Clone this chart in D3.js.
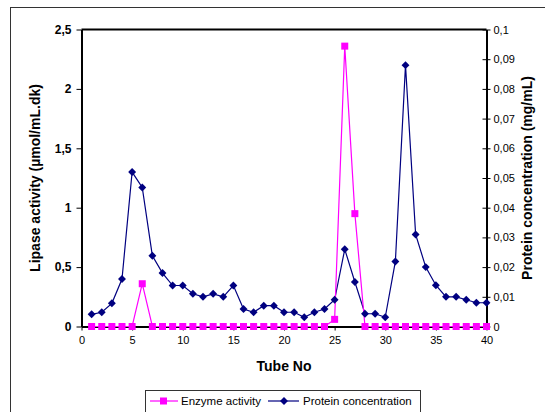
<!DOCTYPE html>
<html>
<head>
<meta charset="utf-8">
<script src="https://cdn.jsdelivr.net/npm/d3@7"></script>
<style>
body { margin:0; background:#fff; }
svg { font-family:"Liberation Sans", Arial, sans-serif; }
.tickL text { font-weight:bold; font-size:12px; }
.tickR text, .tickX text { font-size:11px; }
.axis path, .axis line { stroke:#000; }
.title { font-weight:bold; font-size:14px; }
.legText { font-size:11.5px; }
</style>
</head>
<body>
<svg id="chart" width="545" height="412"></svg>
<script>
var tubes = d3.range(1, 41)
// lipase activity, µmol/mL.dk (left axis)
var enzyme = [0,0,0,0,0,0.36,0,0,0,0, 0,0,0,0,0,0,0,0,0,0, 0,0,0,0,0.06,2.36,0.95,0,0,0, 0,0,0,0,0,0,0,0,0,0]
// protein concentration, mg/mL (right axis)
var protein = [0.0041,0.0048,0.0078,0.016,0.052,0.0468,0.0238,0.018,0.0138,0.0138,
  0.011,0.010,0.011,0.010,0.0138,0.0059,0.0048,0.007,0.007,0.0048,
  0.0048,0.0031,0.0048,0.0059,0.009,0.026,0.015,0.0043,0.0043,0.0031,
  0.0219,0.088,0.031,0.020,0.0139,0.010,0.010,0.009,0.008,0.008]
var leftTicks = [0,0.5,1,1.5,2,2.5]
var rightTicks = d3.range(0, 11).map(function(i) { return i / 100 })
var xTicks = [0,5,10,15,20,25,30,35,40]

var svg = d3.select("#chart")
var plotL = 81.5, plotR = 486.5, plotT = 29.5, plotB = 326.5

// outer chart frame
svg.append("rect")
  .attr("x",10.5).attr("y",7.5).attr("width",560).attr("height",420)
  .attr("fill","none").attr("stroke","#333").attr("stroke-width",1)

var x = d3.scaleLinear().domain([0,40]).range([plotL,plotR])
var yL = d3.scaleLinear().domain([0,2.5]).range([plotB,plotT])
var yR = d3.scaleLinear().domain([0,0.1]).range([plotB,plotT])
function fmt(v) { return String(+v.toFixed(2)).replace(".", ",") }

// plot frame
svg.append("line").attr("x1",plotL).attr("x2",plotR).attr("y1",plotT).attr("y2",plotT)
  .attr("stroke","#000").attr("stroke-width",2)

var axL = svg.append("g").attr("class","axis tickL")
  .attr("transform","translate(" + plotL + ",0)")
  .call(d3.axisLeft(yL).tickValues(leftTicks).tickFormat(fmt).tickSize(5).tickSizeOuter(0))
axL.select(".domain").attr("stroke-width",2)
axL.selectAll("text").attr("dx",-2)

var axR = svg.append("g").attr("class","axis tickR")
  .attr("transform","translate(" + plotR + ",0)")
  .call(d3.axisRight(yR).tickValues(rightTicks).tickFormat(fmt).tickSize(4).tickSizeOuter(0))
axR.select(".domain").attr("stroke-width",2)
axR.selectAll(".tick line").attr("x1",-4)

var axX = svg.append("g").attr("class","axis tickX")
  .attr("transform","translate(0," + plotB + ")")
  .call(d3.axisBottom(x).tickValues(xTicks).tickSize(4).tickSizeOuter(0))
axX.select(".domain").attr("stroke-width",2)
axX.selectAll("text").attr("dy","0.95em")

// titles
svg.append("text").attr("class","title")
  .attr("transform","translate(40," + (plotT + plotB) / 2 + ") rotate(-90)")
  .attr("text-anchor","middle").text("Lipase activity (µmol/mL.dk)")
svg.append("text").attr("class","title")
  .attr("transform","translate(532," + (plotT + plotB) / 2 + ") rotate(-90)")
  .attr("text-anchor","middle").text("Protein concentration (mg/mL)")
svg.append("text").attr("class","title")
  .attr("x",(plotL + plotR) / 2).attr("y",371)
  .attr("text-anchor","middle").text("Tube No")

// series
var navy = "#000080", pink = "#ff00ff"
var protLine = d3.line().x(function(d,i) { return x(tubes[i]) }).y(function(d) { return yR(d) })
var enzLine = d3.line().x(function(d,i) { return x(tubes[i]) }).y(function(d) { return yL(d) })

svg.append("path").attr("d",protLine(protein))
  .attr("fill","none").attr("stroke",navy).attr("stroke-width",1.2)
svg.append("path").attr("d",enzLine(enzyme))
  .attr("fill","none").attr("stroke",pink).attr("stroke-width",1.2)

var diamond = d3.symbol().type(d3.symbolDiamond2).size(40)
svg.selectAll(".pm").data(protein).enter().append("path")
  .attr("class","pm")
  .attr("d",diamond)
  .attr("transform",function(d,i) { return "translate(" + x(tubes[i]) + "," + yR(d) + ")" })
  .attr("fill",navy)
svg.selectAll(".em").data(enzyme).enter().append("rect")
  .attr("class","em")
  .attr("x",function(d,i) { return x(tubes[i]) - 3.5 })
  .attr("y",function(d) { return yL(d) - 3.5 })
  .attr("width",7).attr("height",7)
  .attr("fill",pink)

// legend
var leg = svg.append("g")
leg.append("rect").attr("x",145.5).attr("y",390.5).attr("width",275).attr("height",30)
  .attr("fill","#fff").attr("stroke","#333")
leg.append("line").attr("x1",150).attr("x2",178).attr("y1",401).attr("y2",401)
  .attr("stroke",pink).attr("stroke-width",1.2)
leg.append("rect").attr("x",160).attr("y",397.5).attr("width",7).attr("height",7).attr("fill",pink)
leg.append("text").attr("class","legText").attr("x",181).attr("y",405).text("Enzyme activity")
leg.append("line").attr("x1",268).attr("x2",299).attr("y1",401).attr("y2",401)
  .attr("stroke",navy).attr("stroke-width",1.2)
leg.append("path").attr("d",diamond)
  .attr("transform","translate(284,401)").attr("fill",navy)
leg.append("text").attr("class","legText").attr("x",303).attr("y",405).text("Protein concentration")
</script>
</body>
</html>
